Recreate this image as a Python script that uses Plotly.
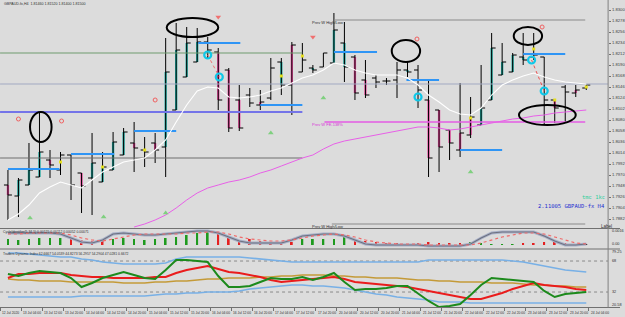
import plotly.graph_objects as go
import numpy as np

# ---------------- DATA ----------------
bar_idx = list(range(56))
opens = [1.7950,1.7928,1.7950,1.7966,1.8000,1.7980,1.8010,1.7974,1.7964,1.7956,
         1.7980,1.8010,1.8034,1.8020,1.8034,1.8026,1.8100,1.8166,1.8196,1.8236,
         1.8216,1.8180,1.8120,1.8130,1.8110,1.8124,1.8196,1.8150,1.8176,1.8184,
         1.8186,1.8194,1.8234,1.8206,1.8160,1.8164,1.8158,1.8160,1.8180,1.8180,
         1.8120,1.8100,1.8060,1.8020,1.8050,1.8070,1.8120,1.8170,1.8176,1.8206,
         1.8206,1.8206,1.8120,1.8146,1.8134,1.8144]
highs = [1.7980,1.7964,1.8034,1.8096,1.8020,1.8016,1.8010,1.7974,1.8054,1.8016,
         1.8056,1.8064,1.8076,1.8046,1.8054,1.8244,1.8274,1.8266,1.8264,1.8246,
         1.8224,1.8184,1.8150,1.8144,1.8140,1.8204,1.8204,1.8236,1.8234,1.8190,
         1.8214,1.8294,1.8276,1.8210,1.8200,1.8170,1.8164,1.8196,1.8196,1.8190,
         1.8160,1.8100,1.8060,1.8154,1.8126,1.8190,1.8254,1.8234,1.8214,1.8254,
         1.8254,1.8206,1.8120,1.8150,1.8150,1.8150]
lows = [1.7880,1.7886,1.7950,1.7966,1.7964,1.7970,1.7920,1.7894,1.7890,1.7956,
        1.7980,1.8010,1.7976,1.7986,1.7994,1.7966,1.8100,1.8166,1.8196,1.8204,
        1.8100,1.8056,1.8058,1.8106,1.8100,1.8120,1.8130,1.8090,1.8176,1.8174,
        1.8186,1.8194,1.8156,1.8120,1.8124,1.8144,1.8150,1.8124,1.8166,1.8104,
        1.7966,1.7976,1.8000,1.8006,1.8044,1.8070,1.8120,1.8170,1.8176,1.8190,
        1.8200,1.8070,1.8074,1.8076,1.8126,1.8140]
closes = [1.7930,1.7960,1.7980,1.8016,1.7990,1.8010,1.7950,1.7948,1.7994,1.7986,
          1.8036,1.8056,1.8024,1.8016,1.8020,1.8176,1.8220,1.8234,1.8236,1.8220,
          1.8120,1.8064,1.8064,1.8114,1.8116,1.8184,1.8150,1.8230,1.8200,1.8180,
          1.8214,1.8260,1.8186,1.8134,1.8130,1.8156,1.8158,1.8180,1.8176,1.8140,
          1.8004,1.8026,1.8034,1.8054,1.8086,1.8104,1.8224,1.8196,1.8210,1.8200,
          1.8210,1.8120,1.8104,1.8136,1.8140,1.8150]
body_kind = list("duuudnnduuuudndu" "uuundddndnudnunu" "uddnnnunddddduuu"
                 "uunndndn")
fast_ma = [1.7880,1.7892,1.7910,1.7934,1.7946,1.7956,1.7950,1.7944,1.7960,1.7976,
           1.7986,1.7996,1.8000,1.8004,1.8020,1.8040,1.8076,1.8110,1.8138,1.8146,
           1.8144,1.8126,1.8124,1.8126,1.8130,1.8138,1.8144,1.8154,1.8164,1.8170,
           1.8180,1.8194,1.8190,1.8180,1.8174,1.8170,1.8170,1.8170,1.8164,1.8150,
           1.8130,1.8116,1.8100,1.8092,1.8090,1.8104,1.8130,1.8150,1.8160,1.8168,
           1.8174,1.8166,1.8160,1.8156,1.8154,1.8152]
slow_ma = [None]*12 + [1.7866,1.7872,1.7880,1.7890,1.7904,1.7920,1.7934,1.7944,
           1.7950,1.7956,1.7960,1.7966,1.7974,1.7980,1.7988,1.7996,1.8004,1.8010,
           1.8022,1.8032,1.8038,1.8042,1.8046,1.8050,1.8054,1.8058,1.8062,1.8066,
           1.8066,1.8064,1.8060,1.8062,1.8066,1.8070,1.8074,1.8078,1.8082,1.8084,
           1.8088,1.8090,1.8094,1.8096,1.8098,1.8100]

# horizontal levels: (price, start bar, end bar, colour, width)
level_lines = [
    (1.8214, -0.75, 28.0, "#6f9b6f", 1),
    (1.8152, -0.75, 57.1, "#a2a9c2", 1),
    (1.8096, -0.75, 28.0, "#7474e8", 2),
    (1.8004, -0.75, 28.0, "#6e6e6e", 1),
    (1.8280, 31.0, 54.9, "#8a8a8a", 1),
    (1.8076, 30.1, 54.9, "#e45ce4", 1.5),
    (1.7872, 30.8, 54.9, "#8a8a8a", 1),
]
sr_segments = [
    (1.7982, 0.0, 4.9), (1.8012, 6.0, 10.1), (1.8058, 12.0, 16.0),
    (1.8234, 18.1, 22.1), (1.8110, 24.0, 28.0), (1.8216, 31.0, 35.1),
    (1.8160, 37.9, 41.0), (1.8020, 43.0, 47.0), (1.8212, 49.0, 53.0),
]
ellipses = [(2.1, 4.15, 1.8036, 1.8096), (15.1, 20.0, 1.8246, 1.8284),
            (36.5, 39.2, 1.8196, 1.8240), (48.1, 50.8, 1.8230, 1.8266),
            (48.6, 54.0, 1.8070, 1.8110)]
red_sig_x = [1.0, 5.1, 14.0, 38.9, 50.8]
red_sig_y = [1.8082, 1.8078, 1.8120, 1.8242, 1.8266]
red_arrow_x = [20.0, 29.0]
red_arrow_y = [1.8286, 1.8246]
green_arrow_x = [2.1, 9.1, 15.0, 25.0, 30.0, 44.0]
green_arrow_y = [1.7884, 1.7886, 1.7894, 1.8054, 1.8124, 1.7976]
cyan_x = [19.0, 20.1, 39.0, 49.8, 51.0]
cyan_y = [1.8210, 1.8166, 1.8126, 1.8200, 1.8138]
yellow_x = [5, 9, 13, 26, 28, 44, 50, 52, 55]
yellow_y = [1.7996, 1.7986, 1.8020, 1.8168, 1.8208, 1.8084, 1.8222, 1.8120, 1.8146]

# cycle panel
cyc_main = [0.0012,0.0012,0.0012,0.0012,0.0012,0.0011,0.0007,0.0003,0.0002,0.0005,
            0.0011,0.0012,0.0011,0.0010,0.0010,0.0011,0.0012,0.0013,0.0014,0.0014,
            0.0012,0.0008,0.0004,0.0002,0.0002,0.0002,0.0002,0.0005,0.0009,0.0010,
            0.0011,0.0011,0.0009,0.0005,0.0001,0.0000,0.0000,0.0000,0.0000,0.0000,
            -0.0001,-0.0001,-0.0001,-0.0001,0.0001,0.0007,0.0012,0.0013,0.0013,0.0013,
            0.0013,0.0009,0.0004,0.0000,0.0000,0.0001]
cyc_sig = [0.0011,0.0011,0.0012,0.0012,0.0012,0.0012,0.0010,0.0007,0.0005,0.0004,
           0.0006,0.0008,0.0010,0.0011,0.0011,0.0011,0.0011,0.0012,0.0012,0.0013,
           0.0013,0.0011,0.0008,0.0006,0.0005,0.0004,0.0004,0.0005,0.0007,0.0009,
           0.0010,0.0011,0.0010,0.0008,0.0005,0.0003,0.0002,0.0001,0.0001,0.0001,
           0.0000,0.0000,0.0000,0.0000,0.0000,0.0002,0.0005,0.0008,0.0010,0.0012,
           0.0012,0.0011,0.0008,0.0005,0.0002,0.0001]
cyc_hist = [6,5,6,7,7,7,8,5,4,5,6,7,6,5,6,7,8,10,12,13,12,9,5,6,4,3,3,3,6,6,
            6,6,10,4,4,3,2,2,1,2,3,2,2,2,3,2,1,1,1,2,2,3,3,2,1,1]
cyc_hist_col = list("ggggggrrrrgggggggggg" "rrrrrrrrgggggrrrrrgr" "rrrrgggggrrrrr")

# TDI panel
tdi_rsi = [52.9,50.6,54.1,56.4,55.2,54.1,48.3,37.8,42.5,48.3,51.7,55.2,51.7,48.3,
           47.1,57.5,69.2,69.2,68.0,66.8,50.6,37.8,37.8,39.0,43.6,48.3,47.1,47.1,
           49.4,45.9,49.4,54.1,43.6,34.3,35.5,35.5,36.7,39.0,39.0,30.8,21.6,14.6,
           15.8,18.1,28.5,40.1,48.3,47.1,45.9,44.8,43.6,33.2,26.2,29.7,30.8,32.0]
tdi_signal = [48.3,52.9,52.9,54.1,54.1,54.1,51.7,50.6,49.4,49.4,48.3,48.3,48.3,48.3,
              49.4,49.4,54.1,57.5,59.9,62.2,58.7,55.2,54.1,51.7,49.4,45.9,43.6,44.8,
              45.9,47.1,48.3,49.4,47.1,43.6,42.5,41.3,40.1,39.0,37.8,35.5,33.2,30.8,
              28.5,26.2,23.9,23.9,27.4,30.8,35.5,39.0,42.5,40.1,39.0,37.8,35.5,34.3]
tdi_mid = [47.1,45.9,45.9,44.8,44.8,44.8,43.6,43.6,43.6,43.6,43.6,42.5,42.5,42.5,
           43.6,43.6,44.8,44.8,45.9,47.1,47.1,48.3,48.3,48.3,49.4,49.4,50.6,50.6,
           51.7,51.7,51.7,50.6,50.6,49.4,49.4,48.3,48.3,48.3,47.1,45.9,45.9,44.8,
           44.8,43.6,43.6,43.6,42.5,42.5,42.5,41.3,40.1,40.1,39.0,39.0,37.8,37.8]
tdi_upper = [77.3,77.3,76.1,75.0,73.8,72.6,72.6,70.3,69.2,66.8,65.7,64.5,64.5,64.5,
             64.5,65.7,70.3,72.6,72.6,72.6,72.6,72.6,72.6,71.5,70.3,69.2,68.0,66.8,
             66.8,66.8,66.8,66.8,66.8,66.8,66.8,66.8,66.8,66.8,66.8,66.8,69.2,69.2,
             69.2,69.2,69.2,69.2,69.2,69.2,68.0,66.8,64.5,62.2,59.9,57.5,56.4,55.2]
tdi_lower = [26.2,26.2,26.2,26.2,26.2,26.2,26.2,27.4,27.4,27.4,27.4,27.4,27.4,27.4,
             28.5,29.7,29.7,30.8,30.8,32.0,32.0,32.0,33.2,35.5,36.7,37.8,39.0,40.1,
             40.1,39.0,39.0,37.8,36.7,34.3,32.0,29.7,28.5,26.2,25.0,23.9,22.7,20.4,
             20.4,20.4,19.2,19.2,19.2,19.2,19.2,19.2,19.2,19.2,19.2,19.2,19.2,19.2]
tdi_levels = [68, 32]

x_labels = ["12 Jul 2020", "13 Jul 04:00", "13 Jul 12:00", "13 Jul 20:00",
            "14 Jul 04:00", "14 Jul 12:00", "14 Jul 20:00", "15 Jul 04:00",
            "15 Jul 12:00", "15 Jul 20:00", "16 Jul 04:00", "16 Jul 12:00",
            "16 Jul 20:00", "17 Jul 04:00", "17 Jul 12:00", "17 Jul 20:00",
            "20 Jul 04:00", "20 Jul 12:00", "20 Jul 20:00", "21 Jul 04:00",
            "21 Jul 12:00", "21 Jul 20:00", "22 Jul 04:00", "22 Jul 12:00",
            "22 Jul 20:00", "23 Jul 04:00", "23 Jul 12:00", "23 Jul 20:00",
            "24 Jul 04:00"]

# ---------------- FIGURE ----------------
W, H = 625, 317
BG = "#dcdcdc"
TEAL, PINK = "#1fa89e", "#ea4a9e"

def py(y):
    return 1 - y / H

def pxp(x):
    return x / W

fig = go.Figure()

for p, x0, x1, col, w in level_lines:
    fig.add_trace(go.Scatter(x=[x0, x1], y=[p, p], mode="lines",
                             line=dict(color=col, width=w), xaxis="x", yaxis="y",
                             hoverinfo="skip"))
for p, x0, x1 in sr_segments:
    fig.add_trace(go.Scatter(x=[x0, x1], y=[p, p], mode="lines",
                             line=dict(color="#2f95f5", width=2), xaxis="x", yaxis="y",
                             hoverinfo="skip"))

fig.add_trace(go.Scatter(x=bar_idx, y=slow_ma, mode="lines",
                         line=dict(color="#e860e8", width=1), xaxis="x", yaxis="y"))
fig.add_trace(go.Scatter(x=bar_idx, y=fast_ma, mode="lines",
                         line=dict(color="#ffffff", width=1.1), xaxis="x", yaxis="y"))

fig.add_trace(go.Ohlc(x=bar_idx, open=opens, high=highs, low=lows, close=closes,
                      increasing_line_color="black", decreasing_line_color="black",
                      line=dict(width=1), tickwidth=0.38, xaxis="x", yaxis="y",
                      hoverinfo="skip"))
body_len = [(c - o) if k != "n" else None for o, c, k in zip(opens, closes, body_kind)]
body_col = [TEAL if k == "u" else PINK for k in body_kind]
fig.add_trace(go.Bar(x=bar_idx, y=body_len, base=opens, width=0.22,
                     marker=dict(color=body_col, line=dict(width=0)),
                     xaxis="x", yaxis="y", hoverinfo="skip"))

fig.add_trace(go.Scatter(x=yellow_x, y=yellow_y, mode="markers",
                         marker=dict(symbol="square", size=3, color="#e6df1e"),
                         xaxis="x", yaxis="y"))
fig.add_trace(go.Scatter(x=[cyan_x[0], cyan_x[1]], y=[cyan_y[0], cyan_y[1]], mode="lines",
                         line=dict(color="#f07070", width=1, dash="dot"), xaxis="x", yaxis="y"))
fig.add_trace(go.Scatter(x=[cyan_x[3], cyan_x[4]], y=[cyan_y[3], cyan_y[4]], mode="lines",
                         line=dict(color="#f05050", width=1, dash="dot"), xaxis="x", yaxis="y"))
fig.add_trace(go.Scatter(x=cyan_x, y=cyan_y, mode="markers",
                         marker=dict(symbol="circle-open", size=7, color="#10c8e8",
                                     line=dict(width=2.2)), xaxis="x", yaxis="y"))
fig.add_trace(go.Scatter(x=red_sig_x, y=red_sig_y, mode="markers",
                         marker=dict(symbol="circle-open", size=4, color="#f06060",
                                     line=dict(width=1)), xaxis="x", yaxis="y"))
fig.add_trace(go.Scatter(x=red_arrow_x, y=red_arrow_y, mode="markers",
                         marker=dict(symbol="triangle-down", size=5, color="#f07070"),
                         xaxis="x", yaxis="y"))
fig.add_trace(go.Scatter(x=green_arrow_x, y=green_arrow_y, mode="markers",
                         marker=dict(symbol="triangle-up", size=5, color="#7fd07f"),
                         xaxis="x", yaxis="y"))

hist_cols = ["#1e9a1e" if c == "g" else "#e42020" for c in cyc_hist_col]
fig.add_trace(go.Bar(x=bar_idx, y=[h * 0.0001 for h in cyc_hist], width=0.17,
                     marker=dict(color=hist_cols, line=dict(width=0)),
                     xaxis="x", yaxis="y2"))
fig.add_trace(go.Scatter(x=bar_idx, y=cyc_main, mode="lines",
                         line=dict(color="#a8b0c8", width=3), xaxis="x", yaxis="y2"))
fig.add_trace(go.Scatter(x=bar_idx, y=cyc_main, mode="lines",
                         line=dict(color="#6e7280", width=1.2), xaxis="x", yaxis="y2"))
fig.add_trace(go.Scatter(x=bar_idx, y=cyc_sig, mode="lines",
                         line=dict(color="#f06a6a", width=1.2, dash="dot"),
                         xaxis="x", yaxis="y2"))

for lv in tdi_levels:
    fig.add_trace(go.Scatter(x=[-0.75, 57.1], y=[lv, lv], mode="lines",
                             line=dict(color="#8a8a8a", width=1, dash="dot"),
                             xaxis="x", yaxis="y3"))
fig.add_trace(go.Scatter(x=bar_idx, y=tdi_upper, mode="lines",
                         line=dict(color="#78b0e6", width=1.6), xaxis="x", yaxis="y3"))
fig.add_trace(go.Scatter(x=bar_idx, y=tdi_lower, mode="lines",
                         line=dict(color="#78b0e6", width=1.6), xaxis="x", yaxis="y3"))
fig.add_trace(go.Scatter(x=bar_idx, y=tdi_mid, mode="lines",
                         line=dict(color="#c49a38", width=1.6), xaxis="x", yaxis="y3"))
fig.add_trace(go.Scatter(x=bar_idx, y=tdi_signal, mode="lines",
                         line=dict(color="#ea1c1c", width=2), xaxis="x", yaxis="y3"))
fig.add_trace(go.Scatter(x=bar_idx, y=tdi_rsi, mode="lines",
                         line=dict(color="#1c8a1c", width=2), xaxis="x", yaxis="y3"))

# ---------------- LAYOUT ----------------
shapes = []
for x0, x1, y0, y1 in ellipses:
    shapes.append(dict(type="circle", xref="x", yref="y", x0=x0, x1=x1, y0=y0, y1=y1,
                       line=dict(color="black", width=2)))
for yy in (228.5, 249.0, 307.5):
    shapes.append(dict(type="line", xref="paper", yref="paper", x0=0, x1=1,
                       y0=py(yy), y1=py(yy), line=dict(color="#707070", width=1)))
shapes.append(dict(type="line", xref="paper", yref="paper", x0=pxp(613), x1=pxp(613),
                   y0=py(307.5), y1=1, line=dict(color="#808080", width=1)))

ann = []
def txt(x, y, s, size=4.5, color="#303030", anchor="left", font="Liberation Sans"):
    ann.append(dict(x=pxp(x), y=py(y), xref="paper", yref="paper", text=s,
                    showarrow=False, xanchor=anchor, yanchor="middle",
                    font=dict(size=size, color=color, family=font)))

txt(2, 3.5, "GBPAUD-fx,H4  1.81460 1.81520 1.81400 1.81500", size=3.6)
txt(312, 22, "Prev W High/Low", size=4)
txt(312, 124, "Prev W FE-138%", size=4, color="#d838d8")
txt(312, 226, "Prev W High/Low", size=4)
txt(612, 197, "tmc 1kc", size=5.5, color="#2fcf9c", anchor="right", font="DejaVu Sans Mono")
txt(612, 206, "2.11005 GBPAUD-fx H4", size=5.5, color="#2430d0", anchor="right",
    font="DejaVu Sans Mono")
txt(604, 226, "Label", size=4.5)
txt(1, 232, "CycleIdentifier(5,34,5) 0.00125 0.00112 0.00052 0.00071", size=3.4)
txt(1, 254, "Traders Dynamic Index 62.6667 54.0539 44.8273 56.2957 54.2904 47.0281 0.6672",
    size=3.4)
txt(615, 231, "0.0016", size=3.8)
txt(615, 244, "0.00", size=3.8)
txt(615, 252, "79.25", size=3.8)
txt(615, 261, "68", size=3.8)
txt(615, 292, "32", size=3.8)
txt(615, 305, "20.58", size=3.8)

for k, lab in enumerate(x_labels):
    ann.append(dict(x=2 * k - 0.75, y=py(313), xref="x", yref="paper", text=lab,
                    showarrow=False, xanchor="left", yanchor="middle",
                    font=dict(size=3.3, color="#303030", family="Liberation Sans")))

main_ticks = list(np.round(np.arange(1.7882, 1.8301, 0.0022), 4))
x_min, x_max = -8 / 10.6, 605 / 10.6

fig.update_layout(
    width=W, height=H, margin=dict(l=0, r=0, t=0, b=0),
    paper_bgcolor=BG, plot_bgcolor=BG, showlegend=False,
    barmode="overlay", shapes=shapes, annotations=ann,
    xaxis=dict(domain=[0, 613 / W], range=[x_min, x_max], anchor="y3",
               showgrid=False, zeroline=False, showticklabels=False,
               tickvals=[2 * k - 0.75 for k in range(len(x_labels))],
               ticks="outside", ticklen=3, tickcolor="#707070",
               rangeslider=dict(visible=False), showline=False),
    yaxis=dict(domain=[1 - 228 / H, 1 - 5 / H], range=[1.7864, 1.8310], anchor="x",
               side="right", showgrid=False, zeroline=False,
               tickvals=main_ticks, ticktext=[f"{t:.4f}" for t in main_ticks],
               tickfont=dict(size=4.2, color="#404040", family="Liberation Sans"),
               ticks="outside", ticklen=2, tickcolor="#707070"),
    yaxis2=dict(domain=[1 - 248 / H, 1 - 229 / H], range=[-0.0003, 0.0016], anchor="x",
                showgrid=False, zeroline=False, showticklabels=False),
    yaxis3=dict(domain=[1 - 307 / H, 1 - 250 / H], range=[14.6, 80.8], anchor="x",
                showgrid=False, zeroline=False, showticklabels=False),
)

fig.write_html("out.html")
